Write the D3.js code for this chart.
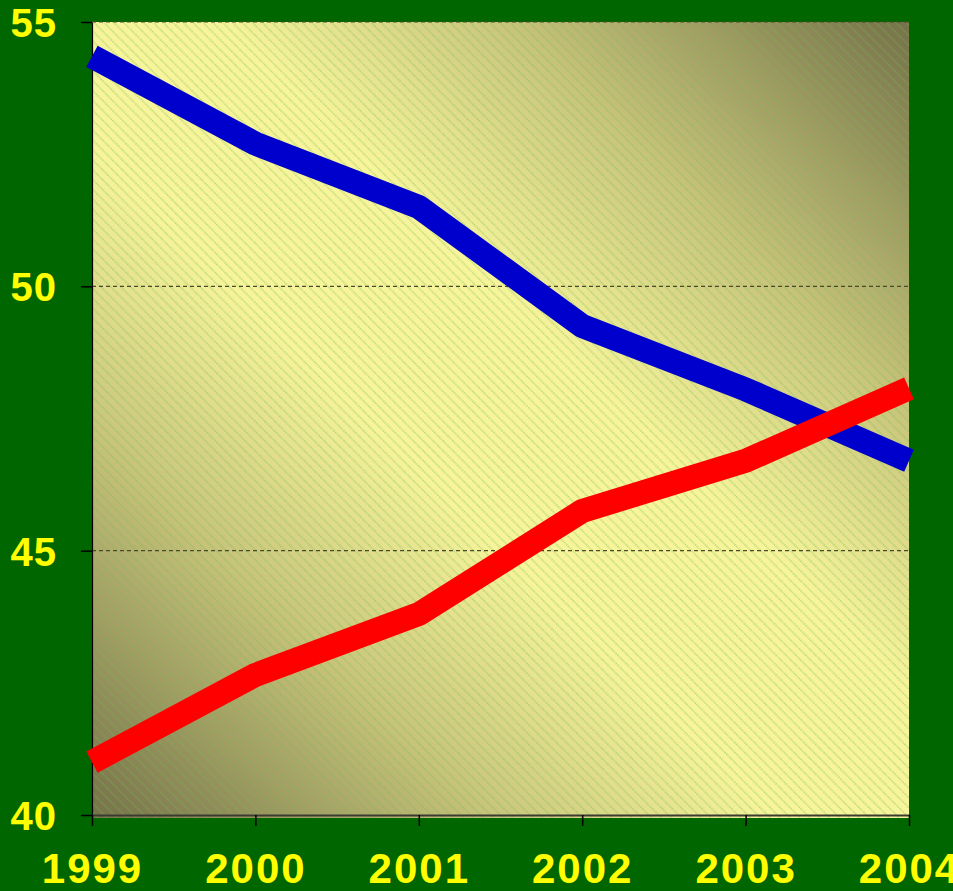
<!DOCTYPE html>
<html>
<head>
<meta charset="utf-8">
<script src="https://cdn.jsdelivr.net/npm/d3@7"></script>
<style>
  html, body { margin: 0; padding: 0; background: #006600; overflow: hidden; }
  svg { display: block; }
</style>
</head>
<body>
<svg width="953" height="891"></svg>
<script>
var years = [1999, 2000, 2001, 2002, 2003, 2004];
var blueValues = [54.35, 52.7, 51.5, 49.25, 48.05, 46.7];
var redValues = [41.0, 42.65, 43.8, 45.75, 46.7, 48.07];
var yTicks = [40, 45, 50, 55];

var svg = d3.select("svg"),
    margin = {top: 22, right: 44, bottom: 76, left: 92},
    width = +svg.attr("width") - margin.left - margin.right,
    height = +svg.attr("height") - margin.top - margin.bottom,
    g = svg.append("g").attr("transform", "translate(" + margin.left + "," + margin.top + ")");

var defs = svg.append("defs");

// diagonal fill: dark corners top-right / bottom-left, light band across
var grad = defs.append("linearGradient")
    .attr("id", "bg")
    .attr("x1", 0).attr("y1", 1)
    .attr("x2", 1).attr("y2", 0);
grad.append("stop").attr("offset", "0%").attr("stop-color", "#75714a");
grad.append("stop").attr("offset", "24%").attr("stop-color", "#c6c27a");
grad.append("stop").attr("offset", "42%").attr("stop-color", "#f7f49c");
grad.append("stop").attr("offset", "58%").attr("stop-color", "#f7f49c");
grad.append("stop").attr("offset", "76%").attr("stop-color", "#c6c27a");
grad.append("stop").attr("offset", "100%").attr("stop-color", "#75714a");

// thin dotted hatch lines
var pat = defs.append("pattern")
    .attr("id", "hatch")
    .attr("patternUnits", "userSpaceOnUse")
    .attr("width", 7).attr("height", 7)
    .attr("patternTransform", "rotate(-45)");
pat.append("line")
    .attr("x1", 1).attr("y1", 0)
    .attr("x2", 1).attr("y2", 7)
    .attr("stroke", "#72bc48")
    .attr("stroke-opacity", 0.8)
    .attr("stroke-width", 1.1)
    .attr("stroke-dasharray", "1.2,1.2");

var x = d3.scaleLinear()
    .domain([1999, 2004])
    .range([0, width]);

var y = d3.scaleLinear()
    .domain([40, 55])
    .range([height, 0]);

g.append("rect")
    .attr("width", width).attr("height", height + 3)
    .attr("fill", "url(#bg)");
g.append("rect")
    .attr("width", width).attr("height", height + 3)
    .attr("fill", "url(#hatch)");

// dashed gridlines
g.append("g")
  .selectAll("line")
  .data(yTicks.filter(function(d) { return d > 40; }))
  .enter().append("line")
    .attr("x1", 0).attr("x2", width)
    .attr("y1", function(d) { return y(d); })
    .attr("y2", function(d) { return y(d); })
    .attr("stroke", "#4a4a2a")
    .attr("stroke-width", 1.2)
    .attr("stroke-dasharray", "4,3");

// axes
var yAxis = g.append("g")
    .call(d3.axisLeft(y).tickValues(yTicks).tickSize(11).tickSizeOuter(0).tickFormat(d3.format("d")));
var xAxis = g.append("g")
    .attr("transform", "translate(0," + height + ")")
    .call(d3.axisBottom(x).tickValues(years).tickSize(11).tickSizeOuter(0).tickFormat(d3.format("d")));

yAxis.select(".domain").attr("stroke", "#000").attr("stroke-width", 1.2);
xAxis.select(".domain").attr("stroke", "#3a3a30").attr("stroke-width", 2);
svg.selectAll(".tick line").attr("stroke", "#000").attr("stroke-width", 1.5);

yAxis.selectAll("text")
    .attr("x", -35)
    .attr("dy", "0.36em")
    .attr("fill", "#ffff00")
    .attr("font-family", "Liberation Sans, Arial, sans-serif")
    .attr("font-weight", "bold")
    .attr("font-size", 40)
    .attr("letter-spacing", 1);

xAxis.selectAll("text")
    .attr("y", 38)
    .attr("dy", "0.71em")
    .attr("fill", "#ffff00")
    .attr("font-family", "Liberation Sans, Arial, sans-serif")
    .attr("font-weight", "bold")
    .attr("font-size", 42)
    .attr("letter-spacing", 2);

var line = d3.line()
    .x(function(d, i) { return x(years[i]); })
    .y(function(d) { return y(d); });

g.append("path")
    .datum(blueValues)
    .attr("d", line)
    .attr("fill", "none")
    .attr("stroke", "#0000cc")
    .attr("stroke-width", 24)
    .attr("stroke-linejoin", "round");

g.append("path")
    .datum(redValues)
    .attr("d", line)
    .attr("fill", "none")
    .attr("stroke", "#ff0000")
    .attr("stroke-width", 24)
    .attr("stroke-linejoin", "round");
</script>
</body>
</html>
